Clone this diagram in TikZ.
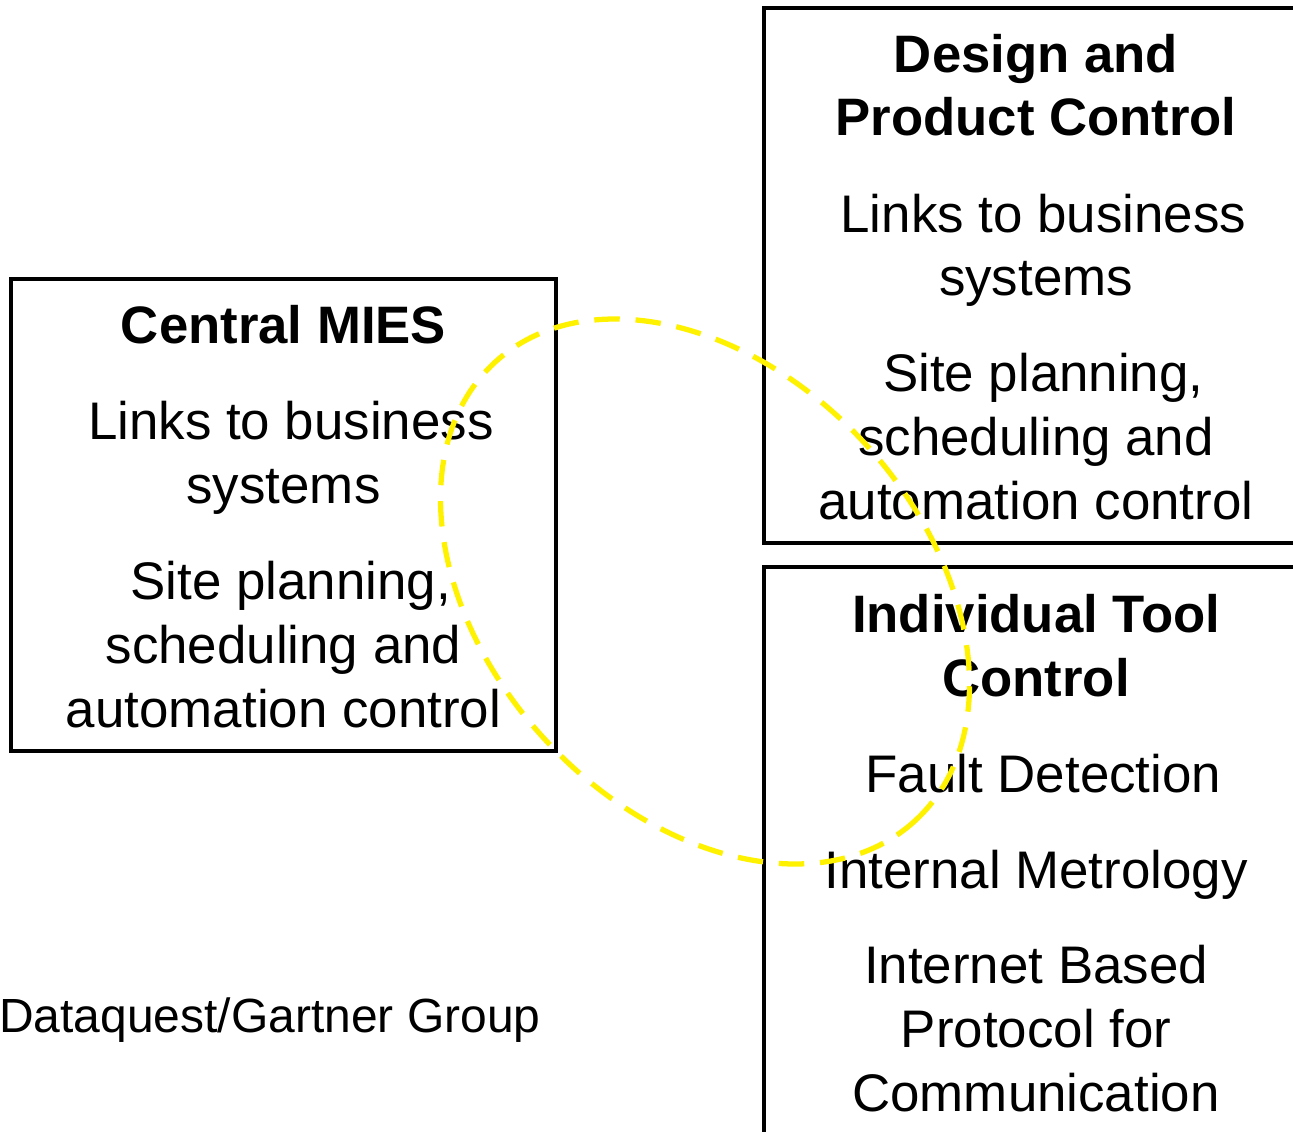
\documentclass[tikz,border=0pt]{standalone}
\usepackage{fontspec}
\setmainfont{Liberation Sans}
\usetikzlibrary{positioning}
\tikzset{
  panel/.style={black, line width=1.8pt},
  headtext/.style={font=\fontsize{30}{36.3}\selectfont\bfseries, align=center, anchor=base, inner sep=0pt},
  bodytext/.style={font=\fontsize{30.1}{36.3}\selectfont, align=center, anchor=base, inner sep=0pt},
  sourcetext/.style={font=\fontsize{27.3}{32}\selectfont, anchor=base west, inner sep=0pt},
  overlapring/.style={yellow, line width=3pt, dash pattern=on 14.5pt off 9pt}
}

\begin{document}
\begin{tikzpicture}[x=0.02cm, y=-0.02cm]
  \useasboundingbox (0,0) rectangle (1293,1131);
  % the three panels
  \draw[panel] (11,279) rectangle (556,751);
  \draw[panel] (764,8) rectangle (1308,543);
  \draw[panel] (764,567) rectangle (1308,1145);
  % central MIES (y = baseline of the last line)
  \node[headtext] (miestitle) at (283.5,344) {Central MIES};
  \node[bodytext] (mieslinks) at (283.5,503) {\ Links to business\\systems};
  \node[bodytext] (miessite) at (283.5,727) {\ Site planning,\\scheduling and\\automation control};
  % design and product control
  \node[headtext] (designtitle) at (1036,136) {Design and\\Product Control};
  \node[bodytext] (designlinks) at (1036,296) {\ Links to business\\systems};
  \node[bodytext] (designsite) at (1036,519) {\ Site planning,\\scheduling and\\automation control};
  % individual tool control
  \node[headtext] (tooltitle) at (1036,696) {Individual Tool\\Control};
  \node[bodytext] (toolfault) at (1036,792) {\ Fault Detection};
  \node[bodytext] (toolmetro) at (1036,888) {Internal Metrology};
  \node[bodytext] (toolnet) at (1036,1111) {Internet Based\\Protocol for\\Communication};
  % source
  \node[sourcetext] (source) at (-1,1032) {Dataquest/Gartner Group};
  % overlap ring
  \draw[overlapring, rotate around={-47.5:(705,591.5)}] (705,591.5) ellipse [x radius=6.22cm, y radius=4.36cm];
\end{tikzpicture}
\end{document}
